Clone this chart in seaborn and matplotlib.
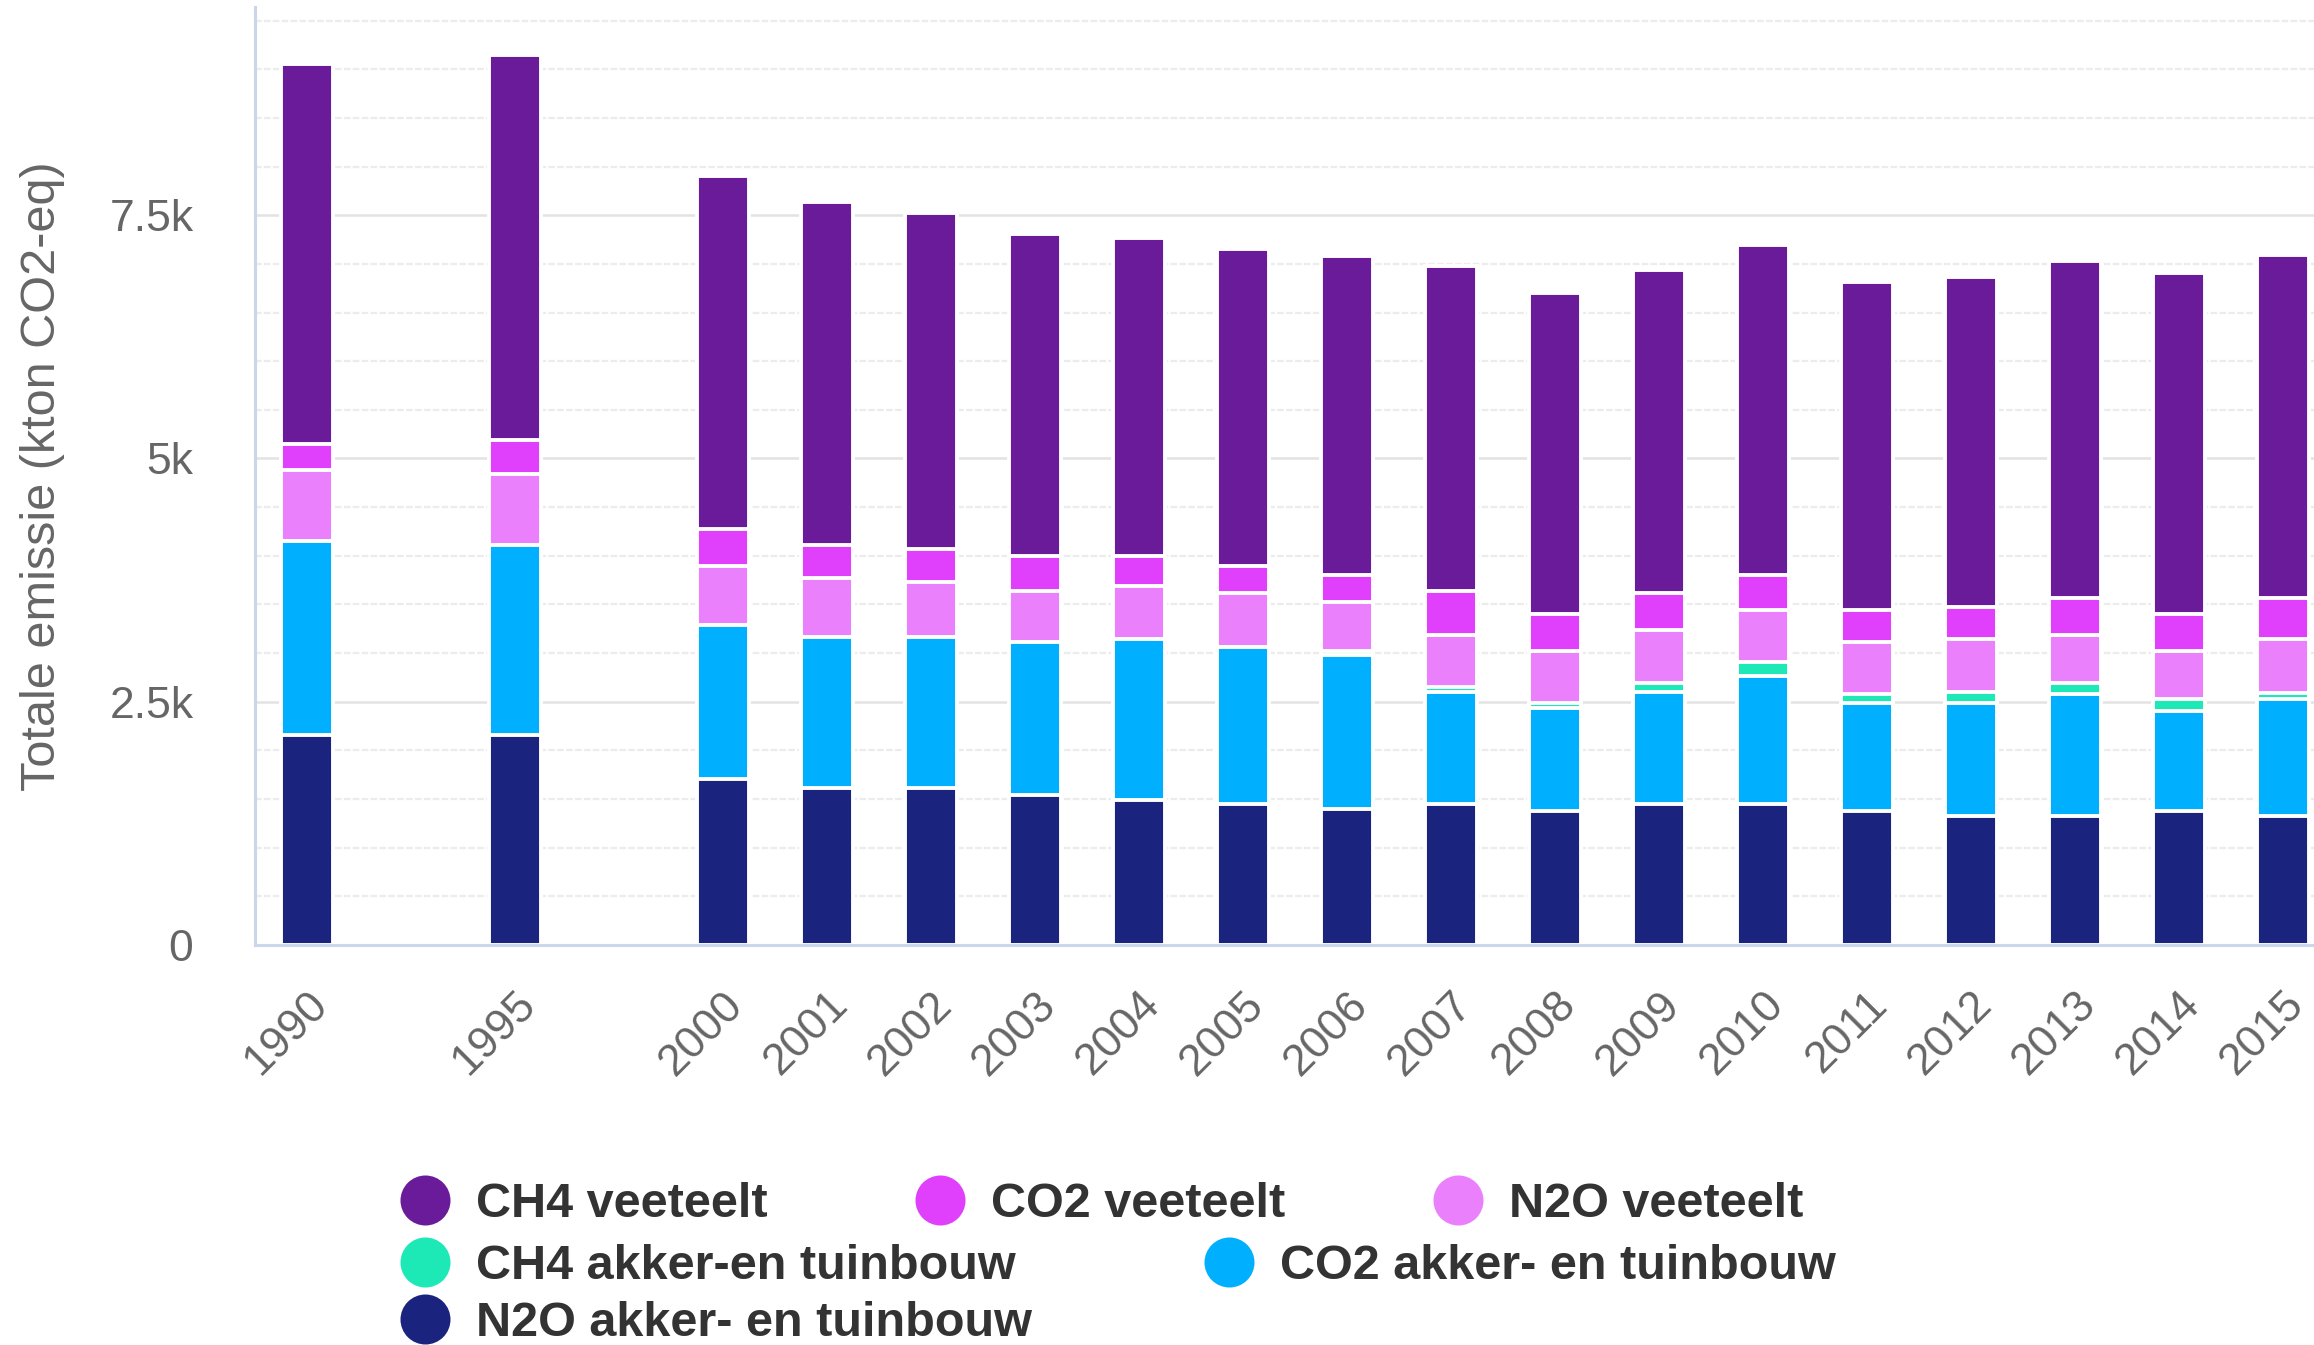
import matplotlib
matplotlib.use("Agg")
import matplotlib.pyplot as plt
import numpy as np
import pandas as pd
import seaborn as sns
from matplotlib.lines import Line2D
from matplotlib.ticker import MultipleLocator, FuncFormatter

# ---------------------------------------------------------------------------
# data (kton CO2-eq)
# ---------------------------------------------------------------------------
years = ["1990", "1995", "2000", "2001", "2002", "2003", "2004", "2005", "2006",
         "2007", "2008", "2009", "2010", "2011", "2012", "2013", "2014", "2015"]

ch4_veeteelt = [3908, 3954, 3631, 3530, 3457, 3313, 3268, 3257, 3274,
                3346, 3296, 3318, 3386, 3368, 3391, 3463, 3508, 3530]
co2_veeteelt = [262, 354, 374, 334, 335, 357, 307, 279, 278,
                446, 379, 379, 356, 329, 329, 374, 379, 424]
n2o_veeteelt = [728, 727, 613, 614, 569, 518, 546, 547, 502,
                541, 541, 541, 541, 541, 541, 496, 497, 552]
ch4_akker = [0, 0, 0, 0, 0, 0, 0, 0, 45,
             50, 50, 95, 140, 95, 117, 117, 117, 62]
co2_akker = [1993, 1948, 1578, 1545, 1545, 1573, 1645, 1623, 1578,
             1155, 1060, 1155, 1322, 1110, 1155, 1250, 1037, 1199]
n2o_akker = [2163, 2163, 1707, 1617, 1617, 1545, 1495, 1444, 1400,
             1444, 1372, 1444, 1444, 1372, 1327, 1327, 1372, 1327]

series = ["CH4 veeteelt", "CO2 veeteelt", "N2O veeteelt",
          "CH4 akker-en tuinbouw", "CO2 akker- en tuinbouw", "N2O akker- en tuinbouw"]
colors = ["#6a1b9a", "#e040fb", "#ea80fc", "#1de9b6", "#00b0ff", "#1a237e"]

df = pd.DataFrame({
    "jaar": years,
    series[0]: ch4_veeteelt,
    series[1]: co2_veeteelt,
    series[2]: n2o_veeteelt,
    series[3]: ch4_akker,
    series[4]: co2_akker,
    series[5]: n2o_akker,
})

# empty slots between 1990, 1995 and 2000 on the category axis
slots = years[:1] + ["gap1"] + years[1:2] + ["gap2"] + years[2:]

# bottom of the stack is the last legend entry
stack_order = series[::-1]
cum = df[stack_order].cumsum(axis=1)

# ---------------------------------------------------------------------------
# plot
# ---------------------------------------------------------------------------
sns.set_theme(style="white")
plt.rcParams["font.family"] = ["Liberation Sans", "DejaVu Sans"]

fig = plt.figure(figsize=(11.57, 6.725), dpi=200)
ax = fig.add_axes([0.110, 0.2974, 0.899, 0.6974])
ax.set_axisbelow(True)

color_of = dict(zip(series, colors))
for name in series:  # tallest cumulative first, smaller ones drawn on top
    sns.barplot(x=df["jaar"], y=cum[name], order=slots, color=color_of[name],
                saturation=1, width=0.5, errorbar=None, edgecolor="white",
                linewidth=1.4, zorder=2, ax=ax)

ax.set_xlim(-0.5, len(slots) - 0.5)
ax.set_ylim(0, 9640)

# axes styling
for side in ["top", "right"]:
    ax.spines[side].set_visible(False)
for side in ["left", "bottom"]:
    ax.spines[side].set_color("#ccd6eb")
    ax.spines[side].set_linewidth(1.1)

ax.yaxis.set_major_locator(MultipleLocator(2500))
ax.yaxis.set_minor_locator(MultipleLocator(500))
ax.yaxis.set_major_formatter(FuncFormatter(lambda v, p: "0" if v == 0 else f"{v / 1000:g}k"))
ax.grid(which="major", axis="y", color="#e3e3e3", linewidth=0.9)
ax.grid(which="minor", axis="y", color="#ececec", linewidth=0.8, linestyle=(0, (3, 1)))
ax.tick_params(axis="y", which="both", length=0, pad=22, labelsize=16, labelcolor="#666666")

ax.set_xticks([slots.index(y) for y in years], labels=years, rotation=45,
              ha="right", rotation_mode="anchor")
ax.set_xticks(np.arange(len(slots) + 1) - 0.5, minor=True)
ax.tick_params(axis="x", which="major", length=0, pad=14, labelsize=16, labelcolor="#666666")
ax.tick_params(axis="x", which="minor", length=13.3, width=0.8, color="#ccd6eb")

ax.set_xlabel("")
ax.set_ylabel("Totale emissie (kton CO2-eq)", fontsize=17.5, color="#666666")
ax.yaxis.set_label_coords(-0.091, 0.5)

# legend laid out like the original: items flow over three rows
legend_pos = [(0.1837, 0.1044), (0.4062, 0.1044), (0.6301, 0.1044),
              (0.1837, 0.0584), (0.5313, 0.0584), (0.1837, 0.0157)]
half_handle = 24.3 / 2314
for name, col, (lx, ly) in zip(series, colors, legend_pos):
    handle = Line2D([], [], marker="o", linestyle="", markersize=17,
                    markerfacecolor=col, markeredgecolor=col)
    fig.legend([handle], [name], loc="center left", bbox_to_anchor=(lx - half_handle, ly),
               frameon=False, borderpad=0, borderaxespad=0, handlelength=1.0,
               handletextpad=0.55, prop={"weight": "bold", "size": 17.5},
               labelcolor="#333333")

fig.savefig("out.png", dpi=200)
